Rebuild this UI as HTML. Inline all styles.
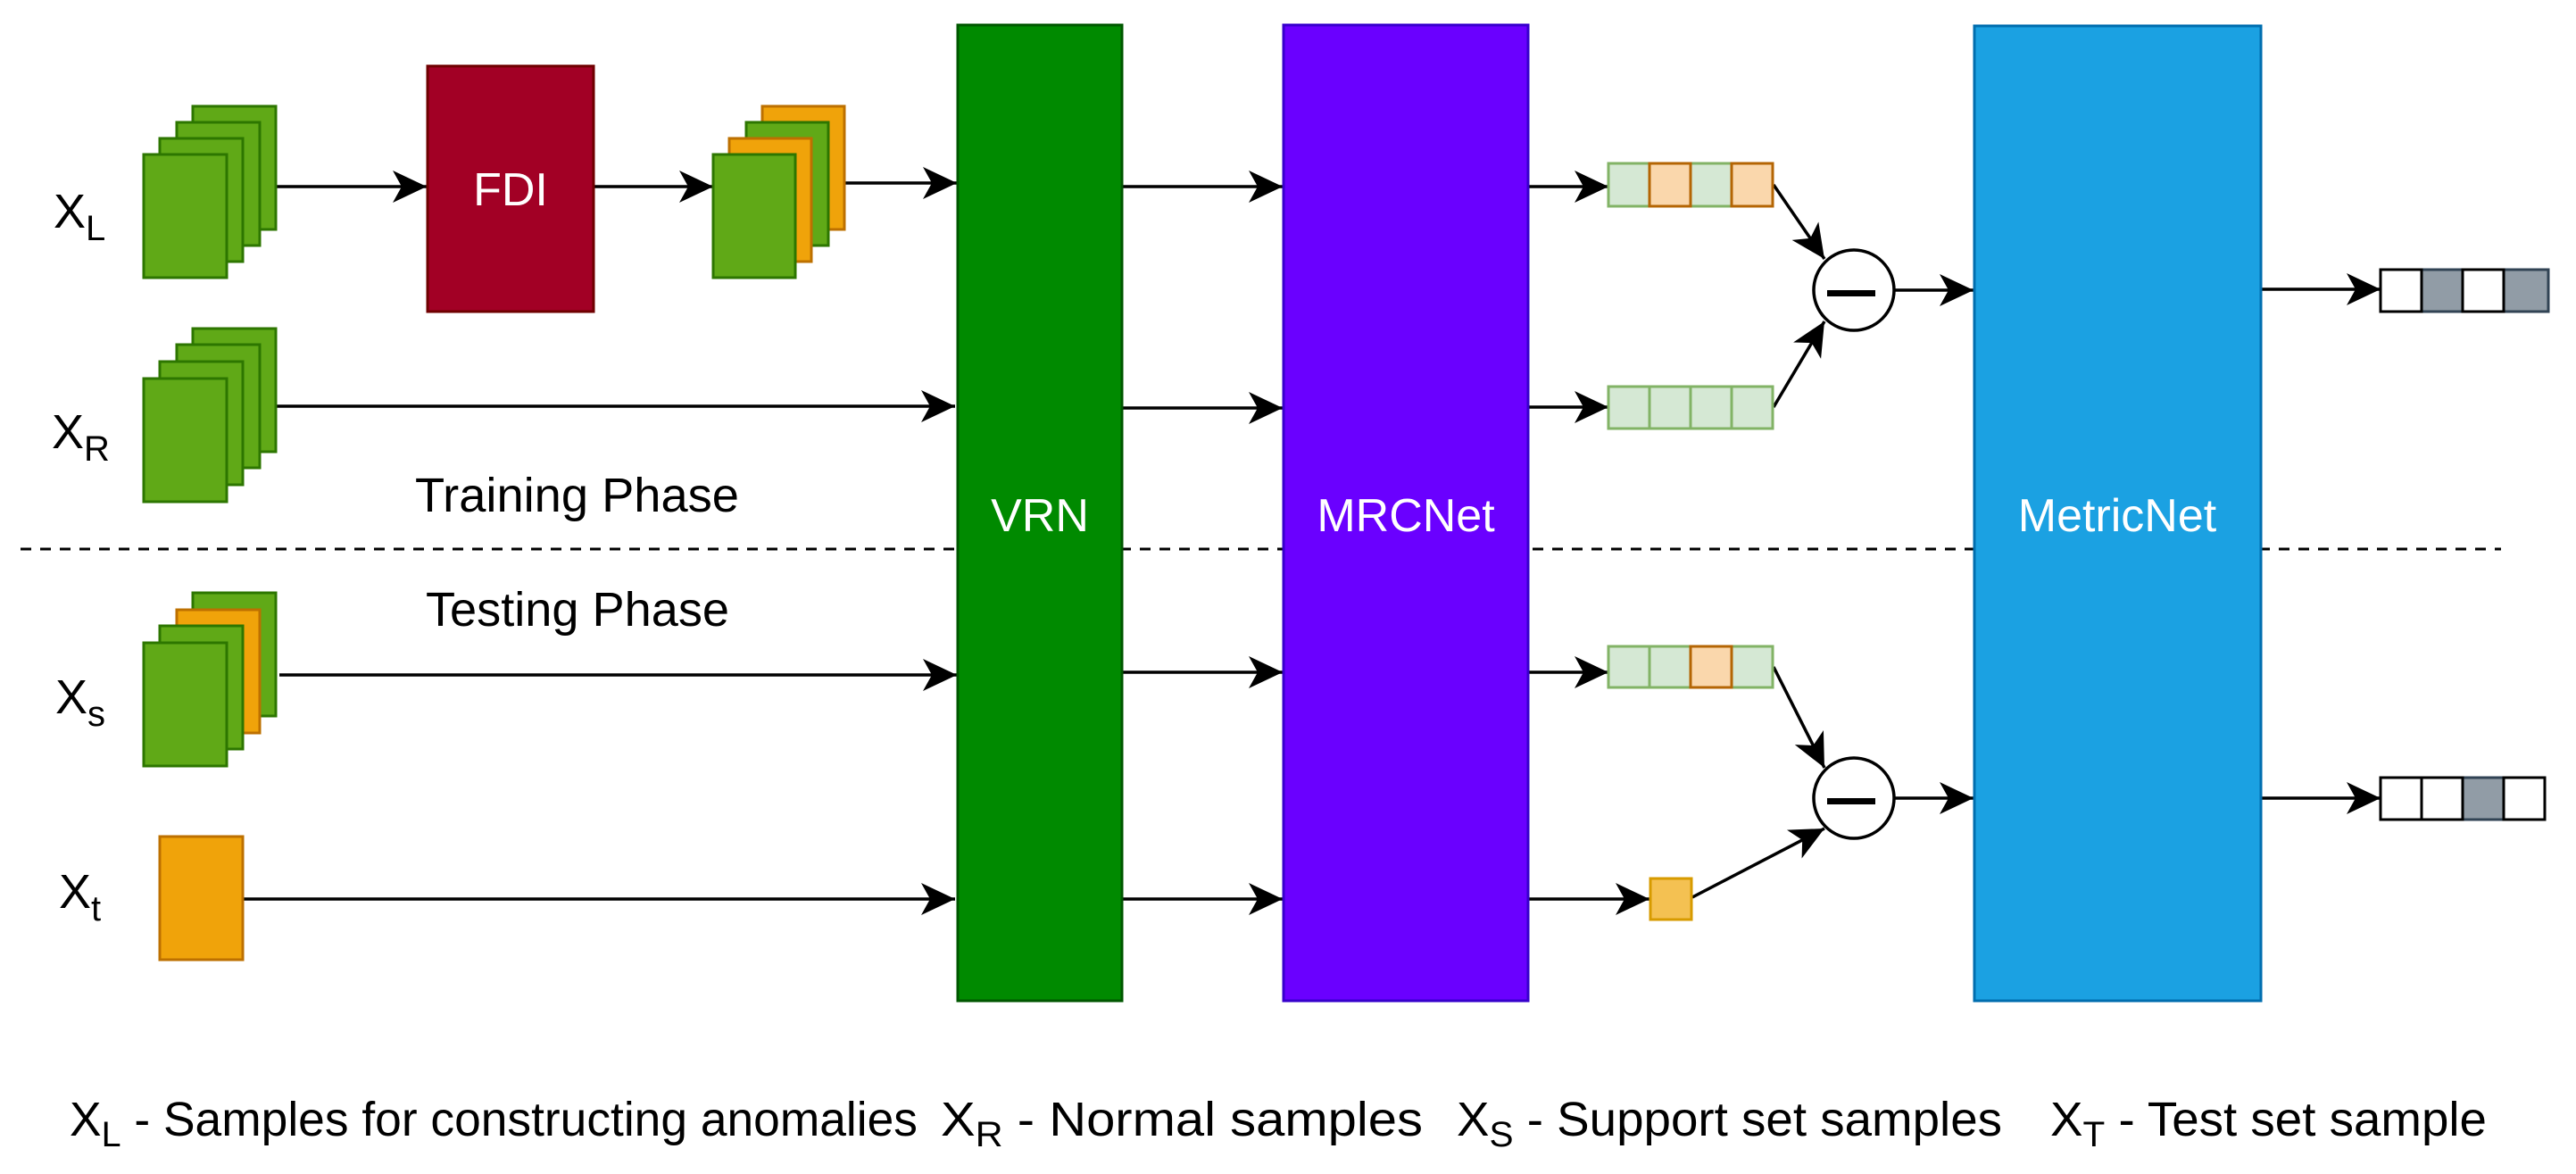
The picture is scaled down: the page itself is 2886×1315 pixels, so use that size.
<!DOCTYPE html>
<html><head><meta charset="utf-8"><style>html,body{margin:0;padding:0;background:#fff}svg{display:block}</style></head>
<body>
<svg width="2886" height="1315" viewBox="0 0 2886 1315" xmlns="http://www.w3.org/2000/svg" font-family="Liberation Sans, Arial, sans-serif">
<defs>
<marker id="a" markerUnits="userSpaceOnUse" markerWidth="44" markerHeight="44" refX="40" refY="22" orient="auto" viewBox="0 0 44 44">
<path d="M40 22 L2 4 L12 22 L2 40 Z" fill="#000"/>
</marker>
</defs>
<g stroke="#000" stroke-width="3.5" fill="none" marker-end="url(#a)">
<line x1="309" y1="209" x2="478" y2="209"/>
<line x1="665" y1="209" x2="799" y2="209"/>
<line x1="946" y1="205" x2="1072" y2="205"/>
<line x1="309" y1="455" x2="1070" y2="455"/>
<line x1="313" y1="756" x2="1072" y2="756"/>
<line x1="272" y1="1007" x2="1070" y2="1007"/>
<line x1="1257" y1="209" x2="1437" y2="209"/>
<line x1="1257" y1="457" x2="1437" y2="457"/>
<line x1="1257" y1="753" x2="1437" y2="753"/>
<line x1="1257" y1="1007" x2="1437" y2="1007"/>
<line x1="1713" y1="209" x2="1802" y2="209"/>
<line x1="1713" y1="456" x2="1802" y2="456"/>
<line x1="1713" y1="753" x2="1802" y2="753"/>
<line x1="1713" y1="1007" x2="1848" y2="1007"/>
<line x1="1987" y1="207" x2="2044" y2="290"/>
<line x1="1987" y1="456" x2="2044" y2="360"/>
<line x1="1987" y1="747" x2="2044" y2="860"/>
<line x1="1896" y1="1005" x2="2044" y2="928"/>
<line x1="2122" y1="325" x2="2211" y2="325"/>
<line x1="2122" y1="894" x2="2211" y2="894"/>
<line x1="2533" y1="324" x2="2667" y2="324"/>
<line x1="2533" y1="894" x2="2667" y2="894"/>
</g>
<line x1="23" y1="615" x2="2802" y2="615" stroke="#000" stroke-width="3" stroke-dasharray="12,10"/>
<rect x="1073" y="28" width="184" height="1093" fill="#008a00" stroke="#005700" stroke-width="3"/>
<rect x="1438" y="28" width="274" height="1093" fill="#6a00ff" stroke="#3700cc" stroke-width="3"/>
<rect x="2212" y="29" width="321" height="1092" fill="#1ba1e2" stroke="#006eaf" stroke-width="3"/>
<rect x="479" y="74" width="186" height="275" fill="#a20025" stroke="#6f0000" stroke-width="3"/>
<g fill="#fff" font-size="52" text-anchor="middle">
<text x="572" y="230">FDI</text>
<text x="1165" y="595">VRN</text>
<text x="1575" y="595">MRCNet</text>
<text x="2372" y="595">MetricNet</text>
</g>
<g stroke="#2d7600" stroke-width="3" fill="#60a917">
<rect x="216" y="119" width="93" height="138"/>
<rect x="198" y="137" width="93" height="138"/>
<rect x="179" y="155" width="93" height="138"/>
<rect x="161" y="173" width="93" height="138"/>
<rect x="216" y="368" width="93" height="138"/>
<rect x="198" y="386" width="93" height="138"/>
<rect x="179" y="405" width="93" height="138"/>
<rect x="161" y="424" width="93" height="138"/>
<rect x="216" y="664" width="93" height="138"/>
<rect x="198" y="683" width="93" height="138" fill="#f0a30a" stroke="#bd7000"/>
<rect x="179" y="701" width="93" height="138"/>
<rect x="161" y="720" width="93" height="138"/>
<rect x="854" y="119" width="92" height="138" fill="#f0a30a" stroke="#bd7000"/>
<rect x="836" y="137" width="92" height="138"/>
<rect x="817" y="155" width="92" height="138" fill="#f0a30a" stroke="#bd7000"/>
<rect x="799" y="173" width="92" height="138"/>
<rect x="179" y="937" width="93" height="138" fill="#f0a30a" stroke="#bd7000"/>
</g>
<g stroke-width="3">
<rect x="1802" y="183" width="46" height="48" fill="#d5e8d4" stroke="#82b366"/>
<rect x="1894" y="183" width="46" height="48" fill="#d5e8d4" stroke="#82b366"/>
<rect x="1848" y="183" width="46" height="48" fill="#fad7ac" stroke="#b46504"/>
<rect x="1940" y="183" width="46" height="48" fill="#fad7ac" stroke="#b46504"/>
<rect x="1802" y="433" width="46" height="47" fill="#d5e8d4" stroke="#82b366"/>
<rect x="1848" y="433" width="46" height="47" fill="#d5e8d4" stroke="#82b366"/>
<rect x="1894" y="433" width="46" height="47" fill="#d5e8d4" stroke="#82b366"/>
<rect x="1940" y="433" width="46" height="47" fill="#d5e8d4" stroke="#82b366"/>
<rect x="1802" y="724" width="46" height="46" fill="#d5e8d4" stroke="#82b366"/>
<rect x="1848" y="724" width="46" height="46" fill="#d5e8d4" stroke="#82b366"/>
<rect x="1940" y="724" width="46" height="46" fill="#d5e8d4" stroke="#82b366"/>
<rect x="1894" y="724" width="46" height="46" fill="#fad7ac" stroke="#b46504"/>
<rect x="1849" y="984" width="46" height="46" fill="#f4c152" stroke="#d79b00"/>
<rect x="2713" y="302" width="46" height="47" fill="#919ca6" stroke="#314354"/>
<rect x="2805" y="302" width="50" height="47" fill="#919ca6" stroke="#314354"/>
<rect x="2667" y="302" width="46" height="47" fill="#fff" stroke="#000"/>
<rect x="2759" y="302" width="46" height="47" fill="#fff" stroke="#000"/>
<rect x="2759" y="871" width="46" height="47" fill="#919ca6" stroke="#314354"/>
<rect x="2667" y="871" width="46" height="47" fill="#fff" stroke="#000"/>
<rect x="2713" y="871" width="46" height="47" fill="#fff" stroke="#000"/>
<rect x="2805" y="871" width="46" height="47" fill="#fff" stroke="#000"/>
</g>
<g stroke="#000" stroke-width="3.5" fill="#fff">
<circle cx="2077" cy="325" r="45"/>
<circle cx="2077" cy="894" r="45"/>
</g>
<rect x="2047" y="325" width="54" height="7" fill="#000"/>
<rect x="2047" y="894" width="54" height="7" fill="#000"/>
<g fill="#000" font-size="54">
<text x="60" y="255">X<tspan font-size="40" dy="14">L</tspan></text>
<text x="58" y="502">X<tspan font-size="40" dy="14">R</tspan></text>
<text x="62" y="799">X<tspan font-size="40" dy="14">s</tspan></text>
<text x="66" y="1017">X<tspan font-size="40" dy="14">t</tspan></text>
<text x="465" y="573" textLength="363" lengthAdjust="spacingAndGlyphs">Training Phase</text>
<text x="477" y="701" textLength="340" lengthAdjust="spacingAndGlyphs">Testing Phase</text>
</g>
<g fill="#000" font-size="54">
<text x="78" y="1272" textLength="950" lengthAdjust="spacingAndGlyphs">X<tspan font-size="40" dy="12">L</tspan><tspan dy="-12"> - Samples for constructing anomalies</tspan></text>
<text x="1054" y="1272" textLength="540" lengthAdjust="spacingAndGlyphs">X<tspan font-size="40" dy="12">R</tspan><tspan dy="-12"> - Normal samples</tspan></text>
<text x="1632" y="1272" textLength="611" lengthAdjust="spacingAndGlyphs">X<tspan font-size="40" dy="12">S</tspan><tspan dy="-12"> - Support set samples</tspan></text>
<text x="2297" y="1272" textLength="489" lengthAdjust="spacingAndGlyphs">X<tspan font-size="40" dy="12">T</tspan><tspan dy="-12"> - Test set sample</tspan></text>
</g>
</svg>
</body></html>
